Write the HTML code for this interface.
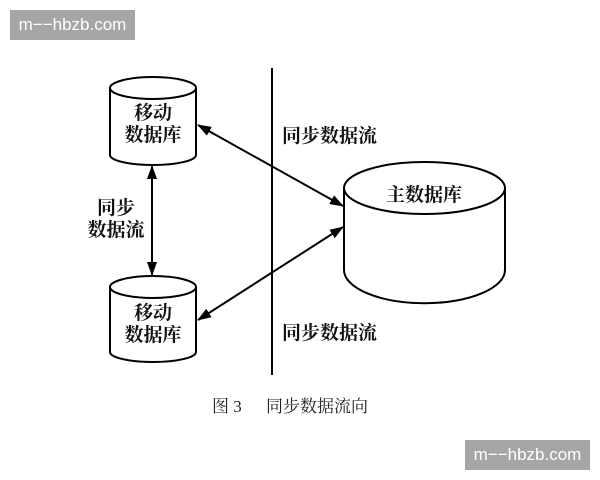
<!DOCTYPE html>
<html><head><meta charset="utf-8"><style>
body{margin:0;width:600px;height:480px;background:#fff;overflow:hidden;position:relative;font-family:"Liberation Serif","Noto Serif CJK SC",serif}
.wm{position:absolute;background:#a6a6a6;color:#fff;font:17px "Liberation Sans",sans-serif;display:flex;align-items:center;justify-content:center}
</style></head><body>
<div class="wm" style="left:10px;top:10px;width:125px;height:30px">m−−hbzb.com</div>
<div class="wm" style="left:465px;top:440px;width:125px;height:30px">m−−hbzb.com</div>
<svg width="600" height="480" style="position:absolute;left:0;top:0">
<defs><marker id="a" markerWidth="14" markerHeight="10" refX="13" refY="5" orient="auto-start-reverse" markerUnits="userSpaceOnUse"><path d="M0,0 L14,5 L0,10z" fill="#000"/></marker></defs>
<g fill="#fff" stroke="#000" stroke-width="2">
<path d="M110,88 V155 A43,10 0 0 0 196,155 V88"/><ellipse cx="153" cy="88" rx="43" ry="11"/>
<path d="M110,287 V352 A43,10 0 0 0 196,352 V287"/><ellipse cx="153" cy="287" rx="43" ry="11"/>
<path d="M344,188 V270 A80,33 0 0 0 505,270 V188"/><ellipse cx="424.5" cy="188" rx="80.5" ry="26"/>
</g>
<line x1="272" y1="68" x2="272" y2="375" stroke="#000" stroke-width="2"/>
<g stroke="#000" stroke-width="2" marker-start="url(#a)" marker-end="url(#a)">
<line x1="198" y1="125" x2="343" y2="206"/>
<line x1="198" y1="320" x2="343" y2="227"/>
<line x1="152" y1="166" x2="152" y2="275"/>
</g>
<g font-size="19" font-weight="bold" fill="#111" font-family="Liberation Serif,Noto Serif CJK SC,serif">
<text x="153" y="119" text-anchor="middle">移动</text>
<text x="153" y="141" text-anchor="middle">数据库</text>
<text x="153" y="319" text-anchor="middle">移动</text>
<text x="153" y="341" text-anchor="middle">数据库</text>
<text x="424" y="201" text-anchor="middle">主数据库</text>
<text x="282" y="142">同步数据流</text>
<text x="282" y="339">同步数据流</text>
<text x="116" y="214" text-anchor="middle">同步</text>
<text x="116" y="236" text-anchor="middle">数据流</text>
</g>
<g font-size="17" fill="#222" font-family="Liberation Serif,Noto Serif CJK SC,serif">
<text x="212" y="412">图 3</text>
<text x="266" y="412">同步数据流向</text>
</g>
</svg>
</body></html>
